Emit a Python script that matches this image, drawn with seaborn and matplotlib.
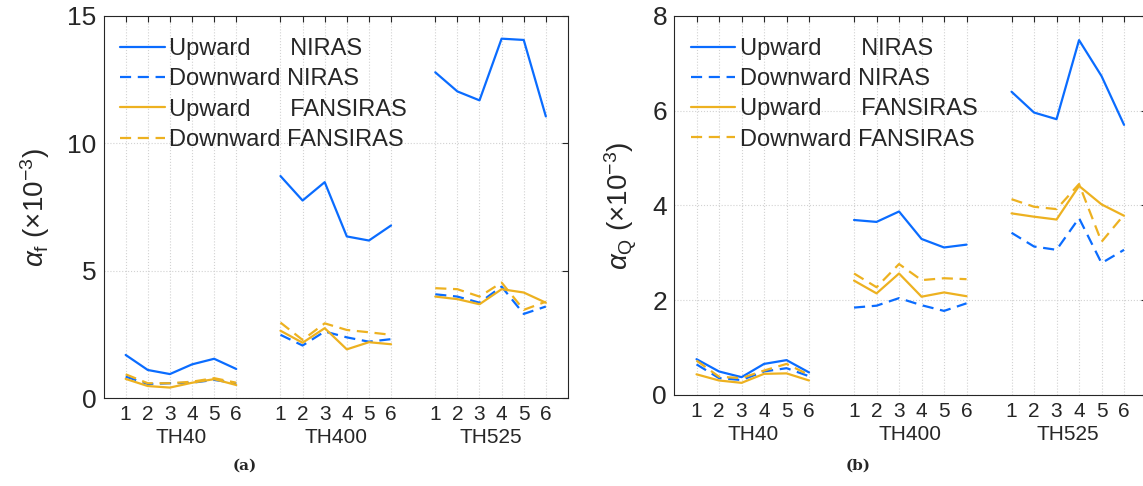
import matplotlib
matplotlib.use("Agg")
import matplotlib.pyplot as plt
import matplotlib.transforms as mtransforms
from matplotlib.lines import Line2D
import pandas as pd
import seaborn as sns

# ---- data -----------------------------------------------------------------
groups = ["TH40", "TH400", "TH525"]
samples = [1, 2, 3, 4, 5, 6]

# alpha_f (x10^-3), 6 samples per group: TH40 | TH400 | TH525
af_up_niras = [1.70, 1.11, 0.95, 1.33, 1.55, 1.15,
               8.72, 7.76, 8.48, 6.35, 6.19, 6.78,
               12.79, 12.04, 11.69, 14.11, 14.06, 11.06]
af_down_niras = [0.85, 0.56, 0.59, 0.61, 0.72, 0.59,
                 2.49, 2.07, 2.62, 2.39, 2.22, 2.32,
                 4.08, 3.99, 3.75, 4.38, 3.31, 3.60]
af_up_fansiras = [0.76, 0.48, 0.42, 0.61, 0.75, 0.52,
                  2.65, 2.18, 2.75, 1.92, 2.20, 2.12,
                  3.99, 3.89, 3.69, 4.28, 4.15, 3.75]
af_down_fansiras = [0.94, 0.59, 0.59, 0.65, 0.79, 0.61,
                    2.97, 2.29, 2.94, 2.68, 2.59, 2.49,
                    4.32, 4.28, 3.99, 4.54, 3.47, 3.79]

# alpha_Q (x10^-3)
aq_up_niras = [0.75, 0.49, 0.37, 0.65, 0.73, 0.47,
               3.69, 3.65, 3.87, 3.29, 3.11, 3.17,
               6.40, 5.96, 5.82, 7.49, 6.73, 5.70]
aq_down_niras = [0.64, 0.35, 0.31, 0.49, 0.56, 0.39,
                 1.84, 1.88, 2.04, 1.89, 1.77, 1.93,
                 3.42, 3.13, 3.06, 3.73, 2.78, 3.06]
aq_up_fansiras = [0.43, 0.30, 0.25, 0.44, 0.45, 0.30,
                  2.41, 2.14, 2.56, 2.07, 2.16, 2.08,
                  3.83, 3.76, 3.70, 4.41, 4.02, 3.78]
aq_down_fansiras = [0.72, 0.38, 0.35, 0.51, 0.65, 0.42,
                    2.56, 2.27, 2.76, 2.42, 2.46, 2.44,
                    4.13, 3.97, 3.92, 4.45, 3.23, 3.80]

directions = ["Upward", "Downward"]
methods = ["NIRAS", "FANSIRAS"]
legend_labels = ["Upward      NIRAS", "Downward NIRAS",
                 "Upward      FANSIRAS", "Downward FANSIRAS"]

# ---- style ----------------------------------------------------------------
sns.set_theme(style="white")
plt.rcParams["font.family"] = ["Liberation Sans", "DejaVu Sans"]
plt.rcParams["mathtext.fontset"] = "custom"
plt.rcParams["mathtext.rm"] = "Liberation Sans"
plt.rcParams["mathtext.it"] = "Liberation Sans:italic"

BLUE = "#0a6cff"
ORANGE = "#edb120"
INK = "#262626"
palette = {"NIRAS": BLUE, "FANSIRAS": ORANGE}
dash_map = {"Upward": "", "Downward": (5, 3)}
LW = 1.6
GAP = 7  # spacing between sample groups on the x axis


def long_frame(series):
    rows = []
    for (direction, method), vals in series.items():
        for i, v in enumerate(vals):
            g, k = divmod(i, len(samples))
            rows.append(dict(pos=g * GAP + samples[k], value=v,
                             group=groups[g], direction=direction,
                             method=method))
    return pd.DataFrame(rows)


def draw_panel(ax, df, ymax, ystep, ylabel, ylabel_x):
    sns.lineplot(data=df, x="pos", y="value", hue="method", style="direction",
                 units="group", estimator=None, sort=False,
                 hue_order=methods, style_order=directions,
                 palette=palette, dashes=dash_map, linewidth=LW,
                 legend=False, ax=ax)

    positions = [g * GAP + k for g in range(len(groups)) for k in samples]
    ax.set_xticks(positions)
    ax.set_xticklabels([str(k) for _ in groups for k in samples])
    ax.set_xlim(0, GAP * len(groups))
    ax.set_ylim(0, ymax)
    ax.set_yticks(list(range(0, ymax + 1, ystep)))
    ax.set_xlabel("")
    ax.set_ylabel(ylabel, fontsize=20, color=INK)
    ax.yaxis.set_label_coords(ylabel_x, 0.5)

    ax.tick_params(direction="in", top=True, right=True, length=4,
                   width=0.8, color=INK, labelcolor=INK)
    ax.tick_params(axis="x", labelsize=15, pad=5)
    ax.tick_params(axis="y", labelsize=19, pad=5)
    ax.grid(True, linestyle=":", color="#d2d2d2", linewidth=0.8)
    for sp in ax.spines.values():
        sp.set_color(INK)
        sp.set_linewidth(0.8)
        sp.set_visible(True)

    # group names under the sample numbers
    trans = mtransforms.blended_transform_factory(ax.transData, ax.transAxes)
    for g, name in enumerate(groups):
        centre = g * GAP + (samples[0] + samples[-1]) / 2
        ax.annotate(name, xy=(centre, 0), xycoords=trans,
                    xytext=(0, -28.5), textcoords="offset points",
                    ha="center", va="center", fontsize=15, color=INK)

    handles = []
    for method in methods:
        for direction in directions:
            h = Line2D([], [], color=palette[method], linewidth=LW)
            if dash_map[direction]:
                h.set_dashes(dash_map[direction])
            handles.append(h)
    ax.legend(handles, legend_labels, loc="upper left",
              bbox_to_anchor=(0.035, 0.942), frameon=False, fontsize=17,
              handlelength=1.9, handletextpad=0.2, labelspacing=0.35,
              borderpad=0, borderaxespad=0, labelcolor=INK)


fig = plt.figure(figsize=(11.43, 4.86), dpi=100)
ax_f = fig.add_axes([0.0906, 0.1805, 0.4063, 0.7866])
ax_q = fig.add_axes([0.5897, 0.1879, 0.4134, 0.7792])

df_f = long_frame({("Upward", "NIRAS"): af_up_niras,
                   ("Downward", "NIRAS"): af_down_niras,
                   ("Upward", "FANSIRAS"): af_up_fansiras,
                   ("Downward", "FANSIRAS"): af_down_fansiras})
df_q = long_frame({("Upward", "NIRAS"): aq_up_niras,
                   ("Downward", "NIRAS"): aq_down_niras,
                   ("Upward", "FANSIRAS"): aq_up_fansiras,
                   ("Downward", "FANSIRAS"): aq_down_fansiras})

draw_panel(ax_f, df_f, 15, 5,
           r"$\alpha_{\mathrm{f}}$ ($\times$10$^{\mathrm{-3}}$)", -0.111)
draw_panel(ax_q, df_q, 8, 2,
           r"$\alpha_{\mathrm{Q}}$ ($\times$10$^{\mathrm{-3}}$)", -0.074)

fig.text(245 / 1143, 1 - 466 / 486, "(a)", ha="center", va="center",
         fontsize=11, fontweight="bold", family="DejaVu Serif", color=INK)
fig.text(858 / 1143, 1 - 466 / 486, "(b)", ha="center", va="center",
         fontsize=11, fontweight="bold", family="DejaVu Serif", color=INK)

fig.savefig("out.png", dpi=100)
